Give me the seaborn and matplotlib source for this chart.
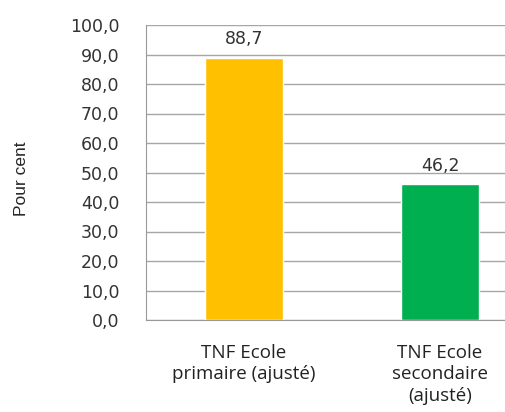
import pandas as pd
import matplotlib.pyplot as plt
import seaborn as sns

categories = ["TNF Ecole\nprimaire (ajusté)", "TNF Ecole\nsecondaire\n(ajusté)"]
values = [88.7, 46.2]
colors = ["#FFC000", "#00B050"]
y_ticks = [0, 10, 20, 30, 40, 50, 60, 70, 80, 90, 100]

df = pd.DataFrame({"cat": categories, "val": values})

sns.set_style("white")
fig = plt.figure(figsize=(5.05, 4.12), dpi=100)
ax = fig.add_axes([146 / 505, 1 - 320 / 412, 1 - 146 / 505, (320 - 25) / 412])

sns.barplot(data=df, x="cat", y="val", hue="cat", palette=colors,
            width=0.4, saturation=1, legend=False, ax=ax, zorder=3)

ax.set_ylim(0, 100)
ax.set_xlim(-0.5, 1.5 - 33 / 196)
ax.set_yticks(y_ticks)
ax.set_yticklabels([f"{v:.1f}".replace(".", ",") for v in y_ticks],
                   fontsize=12.5, color="#333333")
ax.yaxis.grid(True, color="#A6A6A6", linewidth=1, zorder=0)
ax.set_axisbelow(True)
ax.tick_params(axis="y", length=0, pad=19)
ax.tick_params(axis="x", length=0, pad=17)
ax.set_xticks([0, 1])
ax.set_xticklabels(categories, fontsize=13.5, color="#222222",
                   family="Open Sans", linespacing=1.25)
for s in ["top", "right"]:
    ax.spines[s].set_visible(False)
for s in ["left", "bottom"]:
    ax.spines[s].set_color("#999999")
ax.set_xlabel("")
ax.set_ylabel("Pour cent", fontsize=12.5, family="Liberation Sans")
ax.yaxis.set_label_coords(-0.325, 0.48)

offsets = [6.5, 6.0]
for i, v in enumerate(values):
    ax.text(i, v + offsets[i], f"{v:.1f}".replace(".", ","), ha="center",
            va="center", fontsize=12.5, color="#333333")

fig.savefig("out.png", dpi=100)
